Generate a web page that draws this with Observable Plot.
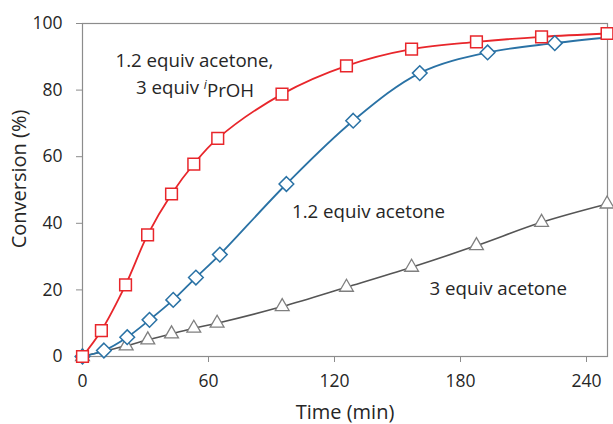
<!DOCTYPE html>
<html>
<head>
<meta charset="utf-8">
<script src="https://cdn.jsdelivr.net/npm/d3@7"></script>
<script src="https://cdn.jsdelivr.net/npm/@observablehq/plot@0.6"></script>
<style>
  html, body { margin: 0; padding: 0; background: white; }
</style>
</head>
<body>
<div id="chart"></div>
<script>
const timeRed = [0, 9, 20.5, 31, 42.4, 53, 64.4, 95, 125.7, 156.7, 187.6, 218.6, 249.8];
const convRed = [0, 7.8, 21.5, 36.5, 48.8, 57.8, 65.5, 78.8, 87.3, 92.3, 94.5, 96, 97];
const timeBlue = [0, 10.2, 21.3, 31.9, 43.2, 54, 65.4, 97.1, 128.9, 160.6, 192.9, 224.9, 250];
const convBlue = [0, 1.8, 5.8, 11, 17, 23.7, 30.6, 51.8, 70.8, 85.1, 91.3, 94.1, 95.8];
const timeGray = [0, 20.8, 31.1, 42.4, 53, 64.1, 95.1, 125.7, 156.7, 187.6, 218.6, 249.8];
const convGray = [0, 3.2, 5, 6.8, 8.5, 10, 15, 20.8, 26.8, 33.3, 40.3, 45.8];

const xTicks = [0, 60, 120, 180, 240];
const yTicks = [0, 20, 40, 60, 80, 100];

const labelText = ["1.2 equiv acetone,", "3 equiv iPrOH", "1.2 equiv acetone", "3 equiv acetone"];
const labelT = [53.3, 53.6, 136.2, 198];
const labelY = [88.6, 80.6, 43.4, 20.2];

const RED = "#e8262b", BLUE = "#2a72a5", GRAY = "#555555", GRAYM = "#7f7f7f";

const rowsOf = (t, v) => t.map((d, i) => ({t: d, v: v[i]}));
const red = rowsOf(timeRed, convRed);
const blue = rowsOf(timeBlue, convBlue);
const gray = rowsOf(timeGray, convGray);
const labels = labelText.map((s, i) => ({s, t: labelT[i], v: labelY[i]}));

const chart = Plot.plot({
  width: 613,
  height: 424,
  marginLeft: 82,
  marginRight: 6,
  marginTop: 23,
  marginBottom: 68,
  style: {fontFamily: "'Open Sans', sans-serif", fontSize: "17.5px", color: "#262626", background: "white"},
  x: {domain: [0, 250]},
  y: {domain: [0, 100]},
  marks: [
    Plot.axisX({ticks: xTicks, tickSize: 6, tickPadding: 12, stroke: "#8c8c8c", label: null, fill: "#262626"}),
    Plot.axisY({ticks: yTicks, tickSize: 6, tickPadding: 14, stroke: "#8c8c8c", label: null, fill: "#262626"}),
    Plot.frame({stroke: "#8c8c8c", strokeWidth: 1.2}),
    Plot.text(["Time (min)"], {frameAnchor: "bottom", lineAnchor: "middle", textAnchor: "middle", dy: 56, text: d => d, fontSize: 20, fill: "#262626"}),
    Plot.text(["Conversion (%)"], {frameAnchor: "left", lineAnchor: "middle", textAnchor: "middle", dx: -63, dy: -11, rotate: -90, text: d => d, fontSize: 20, fill: "#262626"}),
    Plot.line(gray, {x: "t", y: "v", stroke: GRAY, strokeWidth: 1.6, curve: "catmull-rom"}),
    Plot.line(blue, {x: "t", y: "v", stroke: BLUE, strokeWidth: 1.8, curve: "catmull-rom"}),
    Plot.line(red, {x: "t", y: "v", stroke: RED, strokeWidth: 1.8, curve: "catmull-rom"}),
    Plot.dot(gray, {x: "t", y: "v", symbol: "triangle2", r: 6.6, fill: "white", stroke: GRAYM, strokeWidth: 1.3}),
    Plot.dot(blue, {filter: (d, i) => i < blue.length - 1, x: "t", y: "v", symbol: "diamond2", r: 6.6, fill: "white", stroke: BLUE, strokeWidth: 1.5}),
    Plot.dot(red, {x: "t", y: "v", symbol: "square", r: 6.6, fill: "white", stroke: RED, strokeWidth: 1.5}),
    Plot.text(labels, {x: "t", y: "v", text: "s", fontSize: 18.7, fill: "#262626"})
  ]
});

document.getElementById("chart").appendChild(chart);

// superscript italic i in "iPrOH"
d3.select(chart).selectAll("text").each(function() {
  const el = d3.select(this);
  if (el.text() === "3 equiv iPrOH") {
    el.text(null);
    el.append("tspan").text("3 equiv ");
    el.append("tspan").attr("font-style", "italic").attr("font-size", 12).attr("dy", "-0.45em").text("i");
    el.append("tspan").attr("dy", "0.45em").text("PrOH");
  }
});
</script>
</body>
</html>
